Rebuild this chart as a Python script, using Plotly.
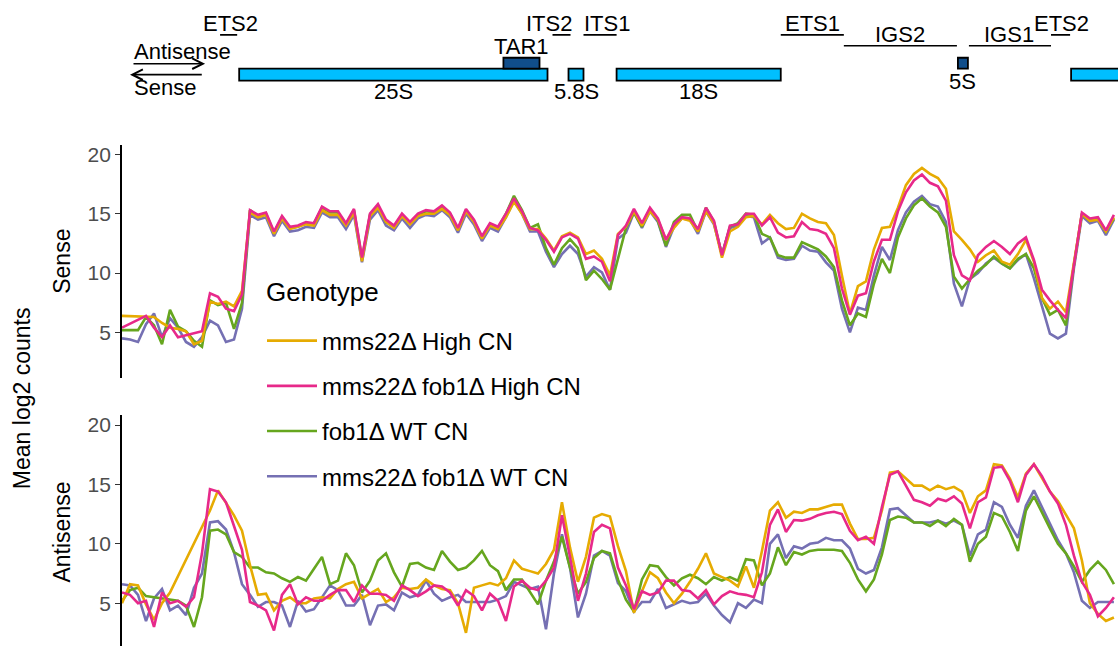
import plotly.graph_objects as go

# ---------------- data ----------------
BIN_BP = 88
bin_pos = [i * BIN_BP for i in range(125)]  # bin start positions along the rDNA repeat (bp)

genotypes = ["mms22Δ High CN", "mms22Δ fob1Δ High CN", "fob1Δ WT CN", "mms22Δ fob1Δ WT CN"]
colors = ["#E6AB02", "#E7298A", "#66A61E", "#7570B3"]

N = None
sense_mms22_high = [
    6.4, N, N, N, 6.3, 5.8, 5.4, 5.3, 5.1, 4.0, 4.3, 7.6, 7.4, 7.6, 7.2, 8.5,
    15.1, 14.7, 14.9, 13.3, 14.6, 13.7, 13.9, 14.1, 14.0, 15.3, 14.9, 14.9, 14.0, 15.1, 11.0, 14.8,
    15.5, 14.3, 13.8, 14.8, 14.1, 14.8, 15.0, 15.0, 15.4, 14.9, 13.6, 15.2, 14.3, 12.9, 14.0, 13.7,
    14.7, 16.0, 15.0, 13.7,
    13.7, 12.9, 11.9, 13.1, 13.4, 13.0, 11.6, 11.9, 11.2, 9.8,
    13.3, 13.9, 15.2, 14.0, 15.2, 14.5, 12.8, 13.8, 14.6, 14.4, 13.5, 15.2, 14.2, 11.3, 13.5, 13.9,
    14.7, 14.8,
    14.1, 14.9, 14.2, 13.7, 13.8, 15.0, 14.6, 14.3, 14.2, 13.2, 9.8, 6.6, 8.9, 9.3, 12.0, 13.8,
    13.9, 15.5, 17.4, 18.35, 18.85, 18.35, 18.0, 17.1, 13.5, 12.8, 12.0, 10.95, 11.5, 11.9, 10.95,
    10.7, 11.6, 12.8, 10.95, 7.9, 7.0, 7.6, 6.7,
    10.7, 15.0, 14.4, 14.5, 13.5, 14.7,
]
sense_mms22_fob1_high = [
    5.4, N, N, 6.4, 5.4, 4.6, 5.6, 4.6, N, N, 5.1, 8.3, 8.0, 7.0, 6.8, 8.2,
    15.3, 14.9, 15.1, 13.5, 14.8, 13.9, 14.0, 14.3, 14.2, 15.6, 15.2, 15.2, 14.2, 15.4, 11.3, 15.0,
    15.8, 14.5, 14.0, 15.0, 14.3, 15.0, 15.3, 15.2, 15.7, 15.1, 13.8, 15.4, 14.5, 13.1, 14.2, 13.9,
    15.0, 16.3, 15.2, 13.8,
    13.6, 12.8, 11.8, 13.0, 13.3, 12.9, 11.2, 11.4, 10.95, 9.3,
    13.2, 14.0, 15.4, 14.2, 15.5, 14.6, 12.8, 14.1, 14.7, 14.6, 13.7, 15.5, 14.4, 11.5, 14.0, 14.1,
    15.0, 15.0,
    14.0, 14.7, 13.4, 13.0, 13.1, 14.3, 13.7, 13.6, 13.3, 12.1, 8.7, 6.5, 8.1, 8.3, 11.0, 12.8,
    12.8, 15.2, 16.8, 17.8, 18.3, 17.6, 17.3, 16.1, 11.5, 9.8, 9.4, 11.5, 12.2, 12.7, 12.2,
    11.6, 12.5, 13.0, 11.1, 8.6, 7.7, 6.9, 6.2,
    10.7, 15.1, 14.6, 14.7, 13.6, 14.9,
]
sense_fob1_wt = [
    5.2, 5.2, 5.2, 6.3, 5.6, 4.0, 6.9, 5.5, 5.1, 4.3, 3.8, 7.7, 7.3, 7.5, 5.3, 7.5,
    15.3, 14.8, 15.0, 13.4, 14.7, 13.8, 13.9, 14.2, 14.2, 15.5, 15.1, 15.1, 14.1, 15.3, 11.2, 14.9,
    15.7, 14.3, 13.9, 14.9, 14.2, 14.9, 15.2, 15.1, 15.6, 15.0, 13.7, 15.3, 14.4, 13.0, 14.1, 13.8,
    15.0, 16.5, 15.3, 13.8,
    14.1, 12.1, 10.7, 12.1, 12.85, 12.1, 9.4, 10.2, 9.5, 8.6,
    11.2, 13.8, 15.1, 13.9, 15.4, 14.4, 12.3, 14.3, 14.9, 14.9, 13.5, 15.5, 14.3, 11.5, 13.9, 14.2,
    15.0, 14.9,
    13.3, 13.0, 11.5, 11.3, 11.3, 12.6, 12.3, 12.0, 11.4, 10.5, 7.7, 5.6, 6.6, 6.3, 9.1, 11.2,
    10.0, 13.0, 14.6, 15.7, 16.3, 15.6, 15.1, 13.9, 9.7, 8.7, 9.5, 10.2, 10.7, 11.4, 10.8,
    10.4, 11.2, 11.6, 10.4, 7.9, 6.5, 6.9, 5.6,
    10.7, 15.0, 14.4, 14.6, 13.5, 14.6,
]
sense_mms22_fob1_wt = [
    4.5, 4.4, 4.2, 5.7, 6.6, 4.6, 6.2, 5.4, 4.2, 3.8, 4.6, 6.0, 5.6, 4.2, 4.4, 7.0,
    14.9, 14.5, 14.7, 13.1, 14.4, 13.5, 13.6, 13.9, 13.8, 15.1, 14.7, 14.7, 13.7, 14.9, 10.9, 14.5,
    15.3, 14.0, 13.6, 14.6, 13.8, 14.6, 14.9, 14.8, 15.3, 14.7, 13.4, 15.0, 14.1, 12.7, 13.8, 13.5,
    14.7, 16.1, 15.0, 13.5,
    13.5, 11.8, 10.5, 11.6, 12.3, 11.6, 9.7, 10.5, 10.05, 8.6,
    12.9, 13.4, 15.1, 13.8, 15.2, 14.3, 12.2, 13.9, 14.6, 14.5, 13.3, 15.2, 14.1, 11.6, 13.8, 14.0,
    14.8, 14.7,
    12.5, 13.0, 11.3, 11.1, 11.2, 12.3, 11.9, 11.8, 10.9, 10.2, 7.0, 5.0, 7.1, 6.9, 9.8, 12.2,
    11.1, 13.6, 15.1, 16.0, 16.5, 15.8, 15.6, 14.3, 9.1, 7.2, 9.5, 10.0, 10.8, 11.3, 10.8,
    10.4, 11.1, 11.6, 9.55, 7.2, 4.9, 4.5, 4.9,
    10.4, 14.8, 14.2, 14.4, 13.2, 14.5,
]

antisense_mms22_high = [
    5.0, 6.6, 6.5, 4.9, 3.6, 5.0, 5.9, N, N, N, N, 12.8, 14.5, 13.5, 12.4, 11.1,
    8.2, 5.7, 5.8, 4.4, 5.2, 5.5, 5.0, 5.0, 5.4, 5.5, 5.4, 6.2, 6.6, 6.8, 5.4, 5.8, 6.2, 5.1, 5.5,
    6.3, 6.2, 6.3, 7.0, 6.5, 6.2, 6.1, 5.0, 2.5, 6.3, 6.5, 6.7, 6.5, 7.1, 8.6, 7.9, 7.7, 7.5, 8.3,
    9.5, 13.5, 9.7, 6.8, 8.9, 12.2, 12.5, 12.3,
    9.8, 7.7, 4.2, 6.0, 7.6, 7.1, 5.9, 5.0, 5.8, 6.8, 7.9, 9.2, 7.5, 7.2, 6.9, 6.4, 8.1, 6.3, 9.4,
    12.8, 13.5, 12.2, 12.7, 12.6, 12.9, 12.9, 13.1, 13.3, 13.3, 11.7, 10.4, 10.4, 10.5, 12.8, 16.0,
    16.1, 15.5, 14.9, 14.9, 14.5, 14.9, 14.6, 14.8, 14.4, 12.6, 14.0, 14.5, 16.7, 16.6, 15.5, 13.9,
    15.9, 16.7, 15.6, 14.4, 13.6, 12.5, 11.3, 8.6, 5.0, 4.1, 3.5, 3.8,
]
antisense_mms22_fob1_high = [
    5.9, 5.7, 5.0, 5.2, 3.0, 5.9, 5.0, 5.2, 4.7, 5.5, 9.2, 14.6, 14.4, 13.5, 11.5, 9.5,
    5.1, 4.8, 4.4, 2.7, 5.7, 6.6, 4.9, 5.5, 5.2, 5.2, 5.7, 6.1, 6.1, 5.1, 6.5, 5.8, 5.8, 5.7, 5.2,
    6.5, 6.1, 5.6, 6.0, 6.5, 6.4, 5.9, 4.8, 6.1, 5.6, 4.4, 5.8, 5.2, 3.5, 6.4, 6.9, 6.3, 6.1, 6.9,
    8.0, 12.4, 8.9, 5.2, 7.5, 11.0, 11.6, 11.3,
    8.0, 6.5, 4.5, 6.0, 5.7, 5.9, 6.9, 6.9, 6.1, 6.0, 5.4, 6.1, 4.9, 5.6, 6.0, 5.8, 5.7, 5.5, 7.6,
    11.6, 12.9, 11.0, 12.0, 11.95, 12.1, 12.4, 12.6, 12.7, 12.5, 11.1, 10.3, 10.6, 10.0, 13.1, 15.8,
    16.1, 14.9, 13.7, 13.5, 13.2, 13.8, 13.6, 14.0, 13.4, 11.3, 13.5, 13.9, 16.4, 16.5, 15.3, 13.5,
    15.8, 16.7, 15.7, 14.4, 13.4, 11.6, 9.0, 6.8, 5.7, 3.9, 4.6, 5.5,
]
antisense_fob1_wt = [
    5.2, 6.1, 6.3, 5.6, 5.5, 5.4, 5.3, 5.2, 4.8, 3.0, 5.5, 11.1, 11.2, 10.8, 9.3, 8.9,
    8.0, 8.0, 7.6, 7.5, 7.1, 6.8, 7.2, 6.9, 7.9, 8.9, 6.6, 6.9, 9.2, 8.2, 5.9, 6.9, 8.6, 9.2, 7.6,
    6.4, 8.3, 8.4, 8.0, 7.8, 9.4, 8.5, 7.8, 8.0, 8.6, 9.4, 8.2, 7.7, 6.1, 7.0, 7.0, 6.0, 4.9, 6.9,
    8.5, 10.6, 8.0, 5.8, 6.8, 8.8, 9.4, 9.2,
    7.0, 5.3, 4.3, 7.0, 8.2, 8.1, 7.2, 6.5, 7.1, 7.4, 7.1, 6.6, 7.2, 6.9, 7.2, 6.9, 8.7, 8.6, 6.5,
    7.5, 9.7, 8.2, 9.3, 9.1, 9.4, 9.5, 9.5, 9.5, 9.4, 8.4, 7.0, 6.0, 7.0, 9.1, 12.0,
    12.3, 12.2, 11.8, 11.8, 11.5, 11.95, 11.5, 12.1, 11.6, 8.5, 10.0, 10.6, 12.6, 12.3, 11.0, 9.4,
    12.8, 14.0, 12.6, 11.3, 10.0, 9.2, 8.1, 6.8, 7.8, 8.5, 7.8, 6.6,
]
antisense_mms22_fob1_wt = [
    6.6, 6.5, 5.7, 3.5, 5.4, 6.2, 4.4, 4.8, 4.0, 6.3, 7.5, 11.8, 11.9, 11.2, 9.3, 6.6,
    5.7, 4.7, 5.1, 5.1, 4.8, 3.0, 5.2, 4.3, 4.5, 5.5, 6.5, 6.1, 4.8, 4.8, 5.7, 3.15, 4.8, 4.9, 4.4,
    5.9, 5.5, 5.7, 6.9, 5.8, 5.2, 5.5, 5.7, 5.1, 5.1, 5.1, 5.1, 5.3, 5.6, 6.8, 6.5, 6.2, 6.4, 2.8,
    7.5, 10.8, 8.0, 3.8, 5.8, 9.0, 9.4, 9.0,
    6.7, 6.0, 4.3, 5.1, 5.1, 6.2, 4.6, 4.9, 5.2, 5.0, 5.1, 5.8, 4.8, 4.0, 3.4, 5.0, 4.6, 5.3, 5.0,
    10.0, 10.8, 8.8, 9.8, 9.6, 10.0, 10.1, 10.5, 10.3, 10.3, 9.6, 7.9, 7.5, 7.8, 9.7, 12.9,
    13.0, 12.4, 11.8, 11.8, 11.8, 11.95, 11.7, 11.95, 11.6, 9.0, 10.8, 11.2, 13.5, 13.1, 11.6, 10.5,
    13.2, 14.5, 13.1, 11.7, 10.3, 9.2, 7.6, 5.2, 4.6, 5.1, 5.1, 5.1,
]

sense = [sense_mms22_high, sense_mms22_fob1_high, sense_fob1_wt, sense_mms22_fob1_wt]
antisense = [antisense_mms22_high, antisense_mms22_fob1_high, antisense_fob1_wt, antisense_mms22_fob1_wt]
for s in sense + antisense:
    assert len(s) == len(bin_pos), len(s)

# rDNA annotation features (bp)
rrna_names = ["25S", "5.8S", "18S", "25S"]
rrna_start = [1289, 4912, 5441, 10441]
rrna_end = [4681, 5077, 7247, 14000]
rrna_label = [True, True, True, False]

small_names = ["TAR1", "5S"]
small_start = [4196, 9196]
small_end = [4593, 9306]
small_label_side = ["above", "below"]

spacer_names = ["ETS2", "ITS2", "ITS1", "ETS1", "IGS2", "IGS1", "ETS2"]
spacer_start = [1079, 4736, 5077, 7247, 7941, 9317, 10220]
spacer_end = [1267, 4934, 5441, 7941, 9185, 10220, 10430]
spacer_label_x = [1189, 4692, 5336, 7599, 8557, 9758, 10330]
spacer_level = [1, 1, 1, 1, 2, 2, 1]

strand_names = ["Antisense", "Sense"]
strand_tail = [110, 894]
strand_head = [914, 88]

# ---------------- figure ----------------
FONT = "Liberation Sans, Arial, Helvetica, sans-serif"
W, H = 1118, 646
fig = go.Figure()

draw_order = [3, 2, 0, 1]
for g in draw_order:
    fig.add_trace(go.Scatter(
        x=bin_pos, y=sense[g], xaxis="x", yaxis="y", mode="lines",
        line=dict(color=colors[g], width=2.6), connectgaps=True,
        name=genotypes[g], legendgroup=genotypes[g], legendrank=g + 1, showlegend=True,
    ))
    fig.add_trace(go.Scatter(
        x=bin_pos, y=antisense[g], xaxis="x", yaxis="y2", mode="lines",
        line=dict(color=colors[g], width=2.6), connectgaps=True,
        name=genotypes[g], legendgroup=genotypes[g], showlegend=False,
    ))

shapes = []
annotations = []
LINE_COL = "black"
for nm, s0, s1, lab in zip(rrna_names, rrna_start, rrna_end, rrna_label):
    shapes.append(dict(type="rect", xref="x", yref="y3", x0=s0, x1=s1, y0=66, y1=78,
                       fillcolor="#00BFFF", line=dict(color=LINE_COL, width=1.8)))
    if lab:
        annotations.append(dict(xref="x", yref="y3", x=(s0 + s1) / 2, y=89, text=nm,
                                showarrow=False, font=dict(size=22, color="black")))
for nm, s0, s1, side in zip(small_names, small_start, small_end, small_label_side):
    shapes.append(dict(type="rect", xref="x", yref="y3", x0=s0, x1=s1, y0=55, y1=66,
                       fillcolor="#104E8B", line=dict(color=LINE_COL, width=1.8)))
    annotations.append(dict(xref="x", yref="y3", x=(s0 + s1) / 2, y=44 if side == "above" else 78.5,
                            text=nm, showarrow=False, font=dict(size=22, color="black")))
for nm, s0, s1, lx, lev in zip(spacer_names, spacer_start, spacer_end, spacer_label_x, spacer_level):
    ly = 32 if lev == 1 else 43
    shapes.append(dict(type="line", xref="x", yref="y3", x0=s0, x1=s1, y0=ly, y1=ly,
                       line=dict(color=LINE_COL, width=1.6)))
    annotations.append(dict(xref="x", yref="y3", x=lx, y=ly - 11, text=nm,
                            showarrow=False, font=dict(size=22, color="black")))
for nm, t, h, ay, ty in zip(strand_names, strand_tail, strand_head, [61, 72], [49, 85]):
    annotations.append(dict(xref="x", yref="y3", axref="x", ayref="y3", x=h, y=ay, ax=t, ay=ay,
                            text="", showarrow=True, arrowhead=5, arrowsize=1.3, arrowwidth=1.6,
                            arrowcolor="black", standoff=0, startstandoff=0))
    annotations.append(dict(xref="x", yref="y3", x=110, y=ty, text=nm, xanchor="left",
                            showarrow=False, font=dict(size=22, color="black")))


def px_x(p):
    return p / W


def px_y(p):
    return (H - p) / H


annotations += [
    dict(xref="paper", yref="paper", x=px_x(62), y=px_y(260), text="Sense", textangle=-90,
         xanchor="center", yanchor="middle", showarrow=False, font=dict(size=23, color="black")),
    dict(xref="paper", yref="paper", x=px_x(62), y=px_y(532), text="Antisense", textangle=-90,
         xanchor="center", yanchor="middle", showarrow=False, font=dict(size=23, color="black")),
    dict(xref="paper", yref="paper", x=px_x(22), y=px_y(397), text="Mean log2 counts", textangle=-90,
         xanchor="center", yanchor="middle", showarrow=False, font=dict(size=23, color="black")),
    dict(xref="paper", yref="paper", x=px_x(264), y=px_y(290), text="Genotype", xanchor="left",
         yanchor="middle", showarrow=False, font=dict(size=26, color="black")),
]

yax_common = dict(
    tickvals=[5, 10, 15, 20], ticks="outside", ticklen=5, tickwidth=1.2, tickcolor="#333333",
    showline=True, linecolor="black", linewidth=1.8, showgrid=False, zeroline=False,
    tickfont=dict(size=21, color="#4D4D4D"), anchor="x", fixedrange=True,
)

fig.update_layout(
    width=W, height=H, margin=dict(l=0, r=0, t=0, b=0),
    paper_bgcolor="white", plot_bgcolor="white",
    font=dict(family=FONT, color="black"),
    xaxis=dict(domain=[px_x(122), 1], range=[0, 10957], visible=False, anchor="y2", fixedrange=True),
    yaxis=dict(domain=[px_y(377), px_y(143)], range=[1.144, 20.754], **yax_common),
    yaxis2=dict(domain=[0, px_y(414)], range=[1.396, 20.838], **yax_common),
    yaxis3=dict(domain=[px_y(100), 1], range=[100, 0], visible=False, anchor="x", fixedrange=True),
    shapes=shapes, annotations=annotations,
    showlegend=True,
    legend=dict(x=px_x(262), y=px_y(317), xanchor="left", yanchor="top",
                font=dict(size=24, color="black"), bgcolor="rgba(0,0,0,0)",
                tracegroupgap=11, itemwidth=50, traceorder="grouped"),
)

fig.write_html("out.html")
